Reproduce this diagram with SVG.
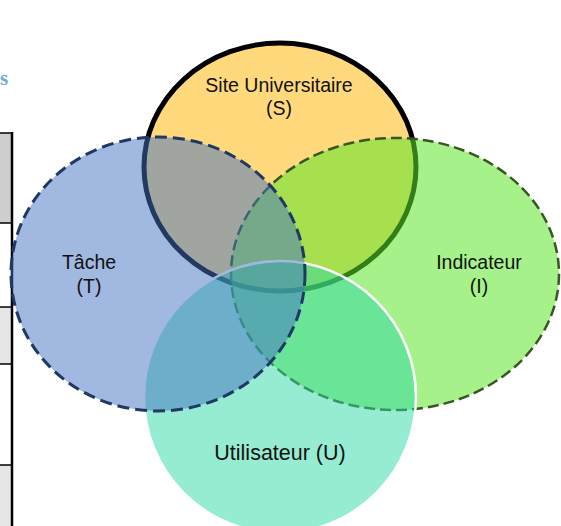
<svg xmlns="http://www.w3.org/2000/svg" width="561" height="526" viewBox="0 0 561 526">
<style>
text{font-family:"Liberation Sans",Arial,sans-serif;fill:#111;text-anchor:middle}
.lbl{font-size:19.5px}
.big{font-size:21.5px}
.cellline{stroke:#000;stroke-width:1.5}
</style>
<rect width="561" height="526" fill="#fff"/>
<g id="table-fragment">
<rect x="0" y="133" width="12" height="90" fill="#cfcfcf"/>
<rect x="0" y="307" width="12" height="57" fill="#e6e6e6"/>
<rect x="0" y="465" width="12" height="61" fill="#e6e6e6"/>
<line class="cellline" x1="0" y1="133" x2="13" y2="133"/>
<line class="cellline" x1="0" y1="223" x2="13" y2="223"/>
<line class="cellline" x1="0" y1="307" x2="13" y2="307"/>
<line class="cellline" x1="0" y1="364" x2="13" y2="364"/>
<line class="cellline" x1="0" y1="465" x2="13" y2="465"/>
<line x1="12" y1="132" x2="12" y2="526" stroke="#000" stroke-width="2.5"/>
</g>
<text x="4" y="85" style="font-family:'Liberation Serif',serif;font-weight:bold;font-size:21px;fill:#6fa8dc">s</text>
<g id="S">
<ellipse cx="280" cy="167" rx="136" ry="124" fill="#FFD97B" stroke="#000" stroke-width="5"/>
</g>
<g id="I">
<ellipse cx="395" cy="274" rx="164" ry="136" fill="#5EE52A" fill-opacity="0.55" stroke="#385723" stroke-width="2.5" stroke-dasharray="11 5"/>
</g>
<g id="U">
<circle cx="280" cy="397" r="136" fill="#2DD9A5" fill-opacity="0.5" stroke="#fff" stroke-width="2.5"/>
</g>
<g id="T">
<ellipse cx="158" cy="274" rx="147" ry="137" fill="#4472C4" fill-opacity="0.5" stroke="#1F3864" stroke-width="3" stroke-dasharray="12 6"/>
</g>
<g id="labels">
<text class="lbl" x="279" y="92">Site Universitaire</text>
<text class="lbl" x="279" y="115">(S)</text>
<text class="lbl" x="89" y="269">Tâche</text>
<text class="lbl" x="89" y="293">(T)</text>
<text class="lbl" x="479" y="269">Indicateur</text>
<text class="lbl" x="479" y="293">(I)</text>
<text class="big" x="280" y="460">Utilisateur (U)</text>
</g>
</svg>
